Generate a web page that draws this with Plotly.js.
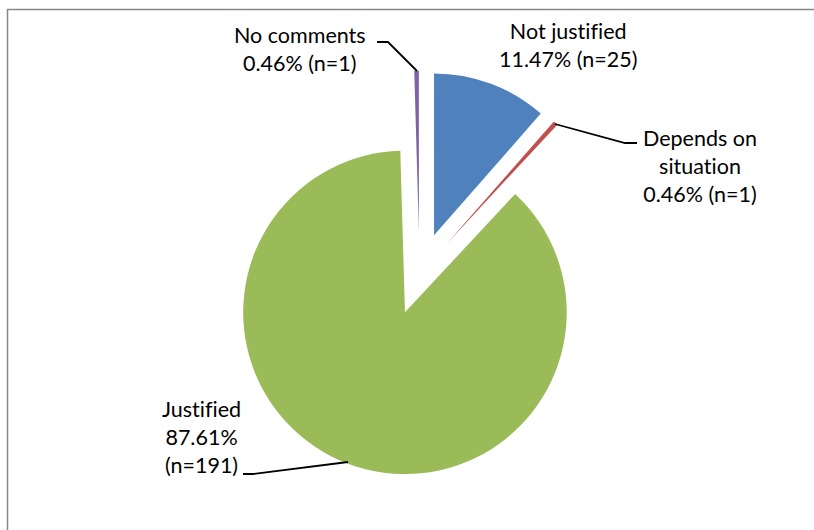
<!DOCTYPE html>
<html>
<head>
<meta charset="utf-8">
<script src="https://cdn.plot.ly/plotly-3.0.1.min.js"></script>
<style>
  html, body { margin: 0; padding: 0; background: #ffffff; }
  #chart { width: 814px; height: 530px; }
  #chart text { font-variant-ligatures: none; font-feature-settings: "liga" 0, "clig" 0; }
</style>
</head>
<body>
<div id="chart"></div>
<script>
// ---- data ----
const categories = ["Not justified", "Depends on situation", "Justified", "No comments"];
const counts = [25, 1, 191, 1];
// label text shown on the chart (line breaks as in the original)
const labelLines = [
  ["Not justified"],
  ["Depends on", "situation"],
  ["Justified"],
  ["No comments"]
];
// ---- styles ----
const sliceColors = ["#4F81BD", "#C0504D", "#9BBB59", "#8064A2"];

const W = 814, H = 530;
const px = x => x / W;
const py = y => 1 - y / H;

const total = counts.reduce((a, b) => a + b, 0);
const pct = counts.map(v => (v / total * 100).toFixed(2) + "%");

// label texts
const labelText = categories.map((c, i) => {
  const n = "(n=" + counts[i] + ")";
  if (i === 2) return labelLines[i].concat([pct[i], n]).join("<br>");
  return labelLines[i].concat([pct[i] + " " + n]).join("<br>");
});

// label placement (pixel centers)
const labelPos = [
  [568, 45],
  [700, 166],
  [201, 437],
  [300, 49]
];

const fontFamily = "Lato, 'Open Sans', sans-serif";

const annotations = labelText.map((t, i) => ({
  xref: "paper", yref: "paper",
  x: px(labelPos[i][0]), y: py(labelPos[i][1]),
  xanchor: "center", yanchor: "middle",
  text: t, showarrow: false, align: "center",
  font: { family: fontFamily, size: 21.5, color: "#000000" }
}));

function pathPx(points) {
  return points.map((p, k) => (k === 0 ? "M " : "L ") + px(p[0]) + "," + py(p[1])).join(" ");
}

const leaderLines = [
  [[377, 42], [388, 42], [417, 71]],
  [[555, 124], [625, 143], [637, 143]],
  [[243, 474], [253, 474], [348, 462]]
];

const shapes = [
  {
    type: "rect", xref: "paper", yref: "paper",
    x0: px(7.5), x1: px(840), y0: py(560), y1: py(9.5),
    line: { color: "#888888", width: 1.5 }, fillcolor: "rgba(0,0,0,0)", layer: "below"
  }
].concat(leaderLines.map(pts => ({
  type: "path", xref: "paper", yref: "paper",
  path: pathPx(pts),
  line: { color: "#000000", width: 1.8 }
})));

// pie placement: center (419.5, 273.75), size 406px
const cx = 419.5, cy = 273.75, half = 203;

const trace = {
  type: "pie",
  labels: categories,
  values: counts,
  sort: false,
  direction: "clockwise",
  rotation: 0,
  pull: 0.255,
  textinfo: "none",
  hoverinfo: "none",
  marker: { colors: sliceColors, line: { width: 0 } },
  domain: {
    x: [px(cx - half), px(cx + half)],
    y: [py(cy + half), py(cy - half)]
  },
  showlegend: false
};

const layout = {
  width: W, height: H,
  margin: { l: 0, r: 0, t: 0, b: 0 },
  paper_bgcolor: "#ffffff",
  showlegend: false,
  annotations: annotations,
  shapes: shapes
};

Plotly.newPlot("chart", [trace], layout, { staticPlot: true });
</script>
</body>
</html>
